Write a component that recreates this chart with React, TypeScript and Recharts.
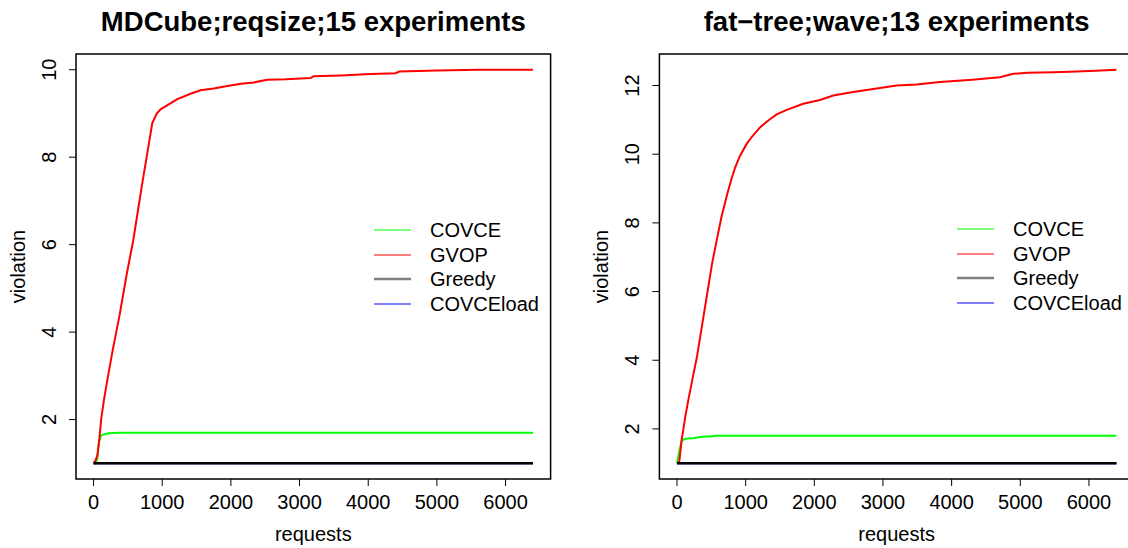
import React from 'react';
import { LineChart, Line, XAxis, YAxis, ReferenceArea } from 'recharts';

const FONT = '"Liberation Sans", Arial, Helvetica, sans-serif';

// left panel: MDCube
const mdRequests = [0, 30, 55, 80, 112, 150, 200, 280, 380, 480, 578, 709, 800, 855, 920, 980, 1048, 1219, 1413, 1558, 1750, 1947, 2150, 2334, 2530, 2800, 3160, 3204, 3600, 4034, 4400, 4450, 5000, 5600, 6000, 6400];
const mdGvop = [1, 1.07, 1.18, 1.5, 2.02, 2.44, 2.9, 3.6, 4.4, 5.3, 6.1, 7.4, 8.26, 8.78, 9.0, 9.1, 9.16, 9.33, 9.45, 9.53, 9.57, 9.63, 9.68, 9.71, 9.77, 9.78, 9.81, 9.85, 9.87, 9.9, 9.92, 9.96, 9.98, 10, 10, 10];
const mdCovce = [1, 1, 1.1, 1.5, 1.64, 1.66, 1.68, 1.69, 1.7, 1.7, 1.7, 1.7, 1.7, 1.7, 1.7, 1.7, 1.7, 1.7, 1.7, 1.7, 1.7, 1.7, 1.7, 1.7, 1.7, 1.7, 1.7, 1.7, 1.7, 1.7, 1.7, 1.7, 1.7, 1.7, 1.7, 1.7];
const mdGreedy = [1, 1, 1, 1, 1, 1, 1, 1, 1, 1, 1, 1, 1, 1, 1, 1, 1, 1, 1, 1, 1, 1, 1, 1, 1, 1, 1, 1, 1, 1, 1, 1, 1, 1, 1, 1];
const mdCovceLoad = [1, 1, 1, 1, 1, 1, 1, 1, 1, 1, 1, 1, 1, 1, 1, 1, 1, 1, 1, 1, 1, 1, 1, 1, 1, 1, 1, 1, 1, 1, 1, 1, 1, 1, 1, 1];

// right panel: fat-tree
const ftRequests = [0, 34, 68, 92, 116, 165, 230, 291, 364, 437, 510, 578, 651, 733, 797, 845, 917, 1015, 1088, 1209, 1330, 1452, 1598, 1839, 2082, 2276, 2567, 2859, 3199, 3490, 3830, 4300, 4704, 4897, 5092, 5500, 5821, 6100, 6400];
const ftGvop = [1, 1.05, 1.68, 1.97, 2.3, 2.84, 3.5, 4.1, 5.0, 5.9, 6.8, 7.49, 8.2, 8.85, 9.3, 9.6, 9.95, 10.3, 10.5, 10.78, 10.98, 11.16, 11.29, 11.47, 11.58, 11.71, 11.81, 11.9, 12.0, 12.03, 12.1, 12.17, 12.24, 12.34, 12.37, 12.39, 12.41, 12.43, 12.46];
const ftCovce = [1, 1.35, 1.65, 1.68, 1.71, 1.72, 1.73, 1.75, 1.77, 1.78, 1.79, 1.8, 1.8, 1.8, 1.8, 1.8, 1.8, 1.8, 1.8, 1.8, 1.8, 1.8, 1.8, 1.8, 1.8, 1.8, 1.8, 1.8, 1.8, 1.8, 1.8, 1.8, 1.8, 1.8, 1.8, 1.8, 1.8, 1.8, 1.8];
const ftGreedy = [1, 1, 1, 1, 1, 1, 1, 1, 1, 1, 1, 1, 1, 1, 1, 1, 1, 1, 1, 1, 1, 1, 1, 1, 1, 1, 1, 1, 1, 1, 1, 1, 1, 1, 1, 1, 1, 1, 1];
const ftCovceLoad = [1, 1, 1, 1, 1, 1, 1, 1, 1, 1, 1, 1, 1, 1, 1, 1, 1, 1, 1, 1, 1, 1, 1, 1, 1, 1, 1, 1, 1, 1, 1, 1, 1, 1, 1, 1, 1, 1, 1];

const xTicks = [0, 1000, 2000, 3000, 4000, 5000, 6000];
const mdYTicks = [2, 4, 6, 8, 10];
const ftYTicks = [2, 4, 6, 8, 10, 12];

const legendNames = ['COVCE', 'GVOP', 'Greedy', 'COVCEload'];
const legendColors = ['#00ff00', '#ff0000', '#808080', '#0000ff'];

const X_DOMAIN: [number, number] = [-256, 6656];

const buildRows = (req: number[], covce: number[], gvop: number[], greedy: number[], load: number[]) =>
  req.map((r, i) => ({ requests: r, COVCE: covce[i], GVOP: gvop[i], Greedy: greedy[i], COVCEload: load[i] }));

const XTick = ({ x, y, payload }: any) => (
  <text x={x} y={y + 23} textAnchor="middle" fontSize={20} fontFamily={FONT} fill="#000">
    {payload.value}
  </text>
);

const YTick = ({ x, y, payload }: any) => (
  <text x={x - 13} y={y} transform={`rotate(-90, ${x - 13}, ${y})`} textAnchor="middle" fontSize={20} fontFamily={FONT} fill="#000">
    {payload.value}
  </text>
);

const XLabel = ({ viewBox }: any) => (
  <text x={viewBox.x + viewBox.width / 2} y={viewBox.y + 62} textAnchor="middle" fontSize={20} fontFamily={FONT} fill="#000">
    requests
  </text>
);

const YLabel = ({ viewBox }: any) => {
  const x = viewBox.x + viewBox.width - 51;
  const y = viewBox.y + viewBox.height / 2;
  return (
    <text x={x} y={y} transform={`rotate(-90, ${x}, ${y})`} textAnchor="middle" fontSize={20} fontFamily={FONT} fill="#000">
      violation
    </text>
  );
};

interface PanelProps {
  title: string;
  rows: any[];
  yDomain: [number, number];
  yTicks: number[];
  width: number;
  left: number;
  right: number;
  legendLeft: number;
  legendTop: number;
}

const Panel = ({ title, rows, yDomain, yTicks, width, left, right, legendLeft, legendTop }: PanelProps) => {
  const plotLeft = left + 60;
  const plotWidth = width - plotLeft - right;
  return (
    <div style={{ position: 'relative', width, height: 548, flex: 'none' }}>
      <div
        style={{
          position: 'absolute', left: plotLeft, width: plotWidth, top: 8, textAlign: 'center',
          fontFamily: FONT, fontWeight: 'bold', fontSize: 27.5, lineHeight: '27.5px', whiteSpace: 'nowrap',
        }}
      >
        {title}
      </div>
      <LineChart width={width} height={548} data={rows} margin={{ top: 54, right, bottom: 9, left }}>
        <XAxis
          type="number" dataKey="requests" domain={X_DOMAIN} ticks={xTicks} allowDataOverflow
          tick={<XTick />} tickSize={7} tickMargin={0} axisLine={false} tickLine={{ stroke: '#000' }}
          height={60} label={<XLabel />}
        />
        <YAxis
          type="number" domain={yDomain} ticks={yTicks} allowDataOverflow
          tick={<YTick />} tickSize={7} tickMargin={0} axisLine={false} tickLine={{ stroke: '#000' }}
          width={60} label={<YLabel />}
        />
        <ReferenceArea
          x1={X_DOMAIN[0]} x2={X_DOMAIN[1]} y1={yDomain[0]} y2={yDomain[1]}
          fill="none" fillOpacity={0} stroke="#000" strokeWidth={1.5} ifOverflow="visible"
        />
        <Line dataKey="COVCE" stroke="#00ff00" strokeWidth={2} dot={false} isAnimationActive={false} />
        <Line dataKey="COVCEload" stroke="#0000ff" strokeWidth={2} dot={false} isAnimationActive={false} />
        <Line dataKey="GVOP" stroke="#ff0000" strokeWidth={2} dot={false} isAnimationActive={false} />
        <Line dataKey="Greedy" stroke="#000000" strokeWidth={2.5} dot={false} isAnimationActive={false} />
      </LineChart>
      <div style={{ position: 'absolute', left: legendLeft, top: legendTop, fontFamily: FONT, fontSize: 20 }}>
        {legendNames.map((name, i) => (
          <div key={name} style={{ display: 'flex', alignItems: 'center', height: 24.6, whiteSpace: 'nowrap' }}>
            <svg width={37} height={4} style={{ marginRight: 19 }}>
              <line x1={0} y1={2} x2={37} y2={2} stroke={legendColors[i]} strokeWidth={name === 'Greedy' ? 2.5 : 1.2} />
            </svg>
            <span style={{ lineHeight: '20px' }}>{name}</span>
          </div>
        ))}
      </div>
    </div>
  );
};

export default function App() {
  const mdRows = buildRows(mdRequests, mdCovce, mdGvop, mdGreedy, mdCovceLoad);
  const ftRows = buildRows(ftRequests, ftCovce, ftGvop, ftGreedy, ftCovceLoad);
  return (
    <div style={{ position: 'absolute', left: 0, top: 0, width: 1128, height: 548, overflow: 'hidden', background: '#fff', display: 'flex' }}>
      <Panel
        title="MDCube;reqsize;15 experiments" rows={mdRows} yDomain={[0.64, 10.36]} yTicks={mdYTicks}
        width={564} left={16} right={13.4} legendLeft={374} legendTop={218}
      />
      <Panel
        title="fat−tree;wave;13 experiments" rows={ftRows} yDomain={[0.5416, 12.918]} yTicks={ftYTicks}
        width={600} left={35.4} right={30} legendLeft={393} legendTop={217}
      />
    </div>
  );
}
